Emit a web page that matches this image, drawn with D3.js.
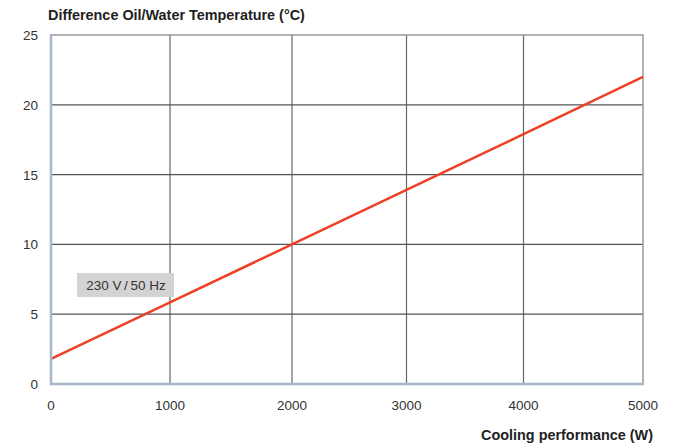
<!DOCTYPE html>
<html><head><meta charset="utf-8">
<script src="https://cdn.jsdelivr.net/npm/d3@7"></script>
<style>body{margin:0;background:#fff;}svg{display:block;font-family:"Liberation Sans",Arial,sans-serif;}</style>
</head><body>
<svg id="c" width="684" height="445"></svg>
<script>
const xValues = [0, 1000, 2000, 3000, 4000, 5000];
const yValues = [1.8, 5.85, 10.0, 13.9, 17.9, 22.0];
const xTicks = [0, 1000, 2000, 3000, 4000, 5000];
const yTicks = [0, 5, 10, 15, 20, 25];
const yTitle = "Difference Oil/Water Temperature (°C)";
const xTitle = "Cooling performance (W)";
const seriesLabel = "230 V\u2009/\u200950 Hz";

const svg = d3.select("#c");
const L = 51, R = 643, T = 35, B = 384;
// the original chart's grid columns are slightly uneven; piecewise-linear scale
const x = d3.scaleLinear().domain(xTicks).range([L, 170, 292, 406.5, 523.5, R]);
const y = d3.scaleLinear().domain([0, 25]).range([B, T]);

// grid
svg.append("g").selectAll("line").data(xTicks.slice(1, -1)).join("line")
  .attr("x1", d => x(d)).attr("x2", d => x(d)).attr("y1", T).attr("y2", B)
  .attr("stroke", "#666").attr("stroke-width", 1.2);
svg.append("g").selectAll("line").data(yTicks.slice(1, -1)).join("line")
  .attr("x1", L).attr("x2", R).attr("y1", d => y(d)).attr("y2", d => y(d))
  .attr("stroke", "#555").attr("stroke-width", 1.2);
// top & right border
svg.append("path").attr("d", `M${L},${T}H${R}V${B}`).attr("fill", "none")
  .attr("stroke", "#999").attr("stroke-width", 1.5);

// label box
const g = svg.append("g");
g.append("rect").attr("x", 77).attr("y", 273).attr("width", 97).attr("height", 24).attr("fill", "#d3d3d3");
g.append("text").attr("x", 126).attr("y", 290).attr("text-anchor", "middle")
  .attr("font-size", 13.5).attr("fill", "#333").text(seriesLabel);

// line
svg.append("path").datum(xValues.map((d, i) => [d, yValues[i]]))
  .attr("d", d3.line().x(d => x(d[0])).y(d => y(d[1])))
  .attr("fill", "none").attr("stroke", "#ec4127").attr("stroke-width", 2.5);

// axes
svg.append("line").attr("x1", L).attr("x2", L).attr("y1", T - 1).attr("y2", B + 1)
  .attr("stroke", "#a8b6c6").attr("stroke-width", 2.5);
svg.append("line").attr("x1", L - 1).attr("x2", R + 1).attr("y1", B).attr("y2", B)
  .attr("stroke", "#a8b6c6").attr("stroke-width", 2.5);

// tick labels
svg.append("g").selectAll("text").data(yTicks).join("text")
  .attr("x", 38).attr("y", d => y(d) + 5).attr("text-anchor", "end")
  .attr("font-size", 13.5).attr("fill", "#333").text(d => d);
svg.append("g").selectAll("text").data(xTicks).join("text")
  .attr("x", d => x(d)).attr("y", 410).attr("text-anchor", "middle")
  .attr("font-size", 13.5).attr("fill", "#333").text(d => d);

// titles
svg.append("text").attr("x", 48).attr("y", 20).attr("font-size", 14.4).attr("font-weight", "bold")
  .attr("fill", "#222").text(yTitle);
svg.append("text").attr("x", 653).attr("y", 440).attr("text-anchor", "end").attr("font-size", 14.4)
  .attr("font-weight", "bold").attr("fill", "#222").text(xTitle);
</script>
</body></html>
